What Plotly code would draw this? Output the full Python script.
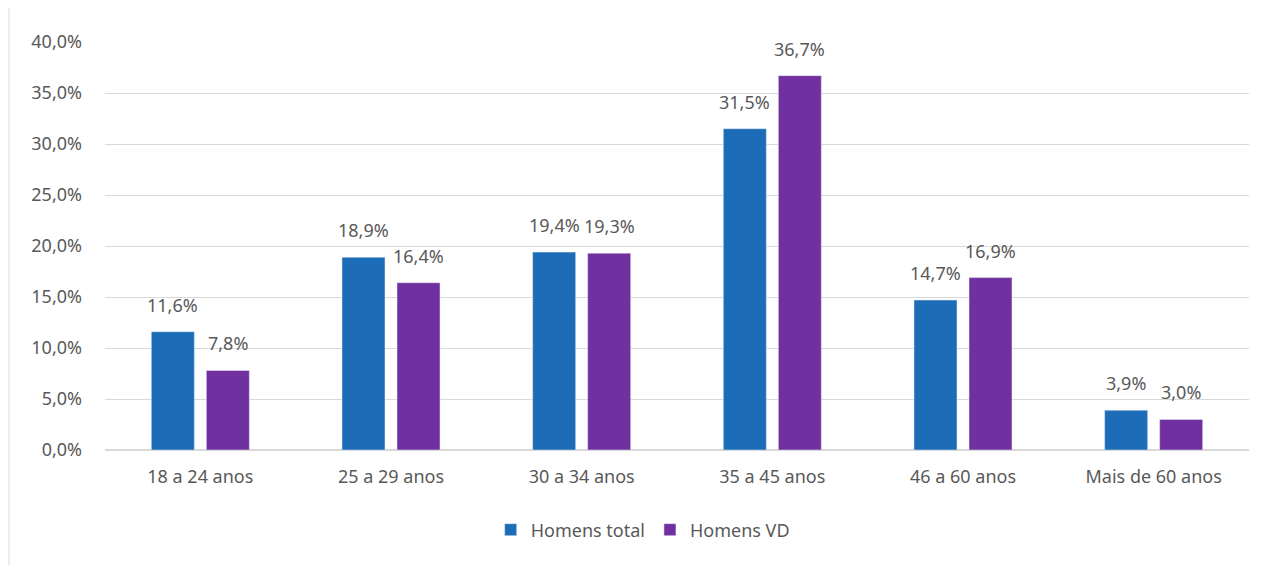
import plotly.graph_objects as go

categories = ["18 a 24 anos", "25 a 29 anos", "30 a 34 anos", "35 a 45 anos", "46 a 60 anos", "Mais de 60 anos"]
homens_total = [11.6, 18.9, 19.4, 31.5, 14.7, 3.9]
homens_vd = [7.8, 16.4, 19.3, 36.7, 16.9, 3.0]
y_ticks = [0, 5, 10, 15, 20, 25, 30, 35, 40]

BLUE = "#1c6cb8"
PURPLE = "#7030a0"
TXT = "#595959"
FONT = "Noto Sans"
FS = 18

def fmt(v):
    return f"{v:.1f}%".replace(".", ",")

fig = go.Figure()
fig.add_trace(go.Bar(x=categories, y=homens_total, name="Homens total", marker_color=BLUE))
fig.add_trace(go.Bar(x=categories, y=homens_vd, name="Homens VD", marker_color=PURPLE))

annotations = []
for vals, shift in ((homens_total, -27.5), (homens_vd, 27.5)):
    for c, v in zip(categories, vals):
        annotations.append(dict(x=c, y=v, xref="x", yref="y", text=fmt(v), showarrow=False,
                                xshift=shift, yshift=13, yanchor="bottom",
                                font=dict(family=FONT, size=FS, color=TXT)))

fig.update_layout(
    width=1263, height=565,
    margin=dict(l=97, r=22, t=34, b=123),
    paper_bgcolor="white", plot_bgcolor="white",
    barmode="group", bargap=0.423, bargroupgap=0.218,
    font=dict(family=FONT, size=FS, color=TXT),
    annotations=annotations,
    showlegend=True,
    legend=dict(orientation="h", x=0.47, xanchor="center", y=-0.196, yanchor="middle",
                font=dict(family=FONT, size=FS, color=TXT), itemwidth=30, traceorder="normal"),
    xaxis=dict(showgrid=False, showline=False, zeroline=False, ticks="", ticklabelstandoff=14,
               tickfont=dict(family=FONT, size=FS, color=TXT)),
    yaxis=dict(range=[0, 40], tickvals=y_ticks, ticktext=[fmt(t) for t in y_ticks],
               showgrid=True, gridcolor="#d9d9d9", gridwidth=1, zeroline=True, zerolinecolor="#d9d9d9",
               showline=False, ticks="", ticklabelstandoff=22,
               tickfont=dict(family=FONT, size=FS, color=TXT)),
    shapes=[dict(type="line", xref="paper", yref="paper", x0=-96/1144, x1=-96/1144,
                 y0=-130/408, y1=(408+42)/408, line=dict(color="#d9d9d9", width=1))],
)

fig.write_html("out.html")
